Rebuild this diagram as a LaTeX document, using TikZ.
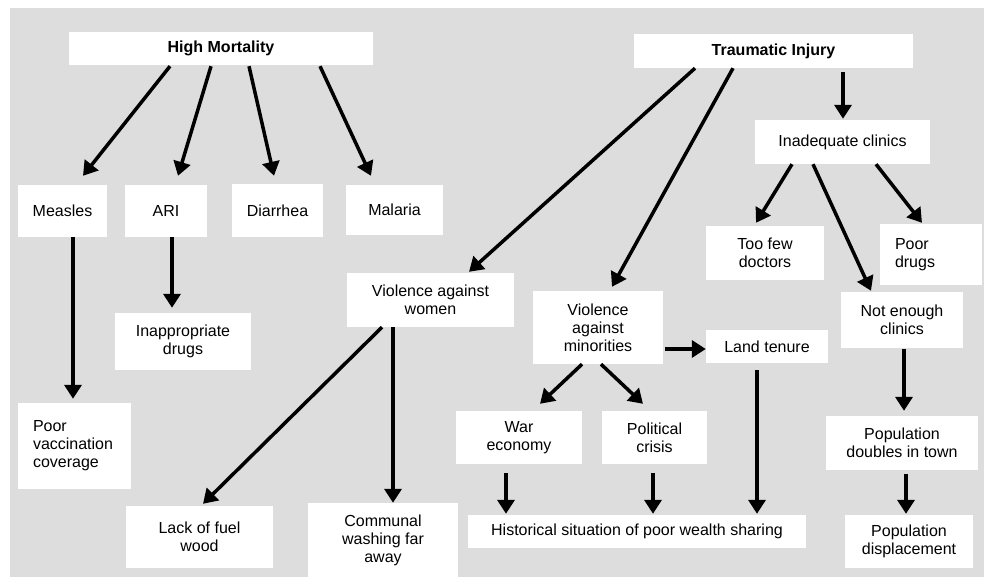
\documentclass[tikz,border=0pt]{standalone}
\usepackage{fontspec}
\setmainfont{Liberation Sans}
\usetikzlibrary{arrows.meta}
\definecolor{fondo}{RGB}{221,221,221}

\begin{document}
\begin{tikzpicture}[x=1pt,y=-1pt,
  box/.style={fill=white, inner sep=0pt, align=center, font=\fontsize{16}{18}\selectfont},
  boxleft/.style={box, align=left, inner xsep=15pt},
  arr/.style={line width=3.5pt, -{Triangle[length=14pt,width=17pt]}}
]
\useasboundingbox (0,0) rectangle (985,578);
\fill[fondo] (10,8) rectangle (984,577);

% -------- High mortality (left) --------
\node[box, minimum width=304pt, minimum height=33pt] (hm) at (221,48.5) {\textbf{High Mortality}};
\node[box, minimum width=89pt, minimum height=52pt] (measles) at (62.5,211) {Measles};
\node[box, minimum width=82pt, minimum height=52pt] (ari) at (166,211) {ARI};
\node[box, minimum width=91pt, minimum height=53pt] (diarrhea) at (277.5,210.5) {Diarrhea};
\node[box, minimum width=97pt, minimum height=50pt] (malaria) at (394.5,210) {Malaria};
\node[boxleft, text width=83pt, minimum height=86pt] (poorvacc) at (74.5,446) {Poor\\vaccination\\coverage};
\node[box, minimum width=136pt, minimum height=57pt] (inappr) at (183,341.5) {Inappropriate\\drugs};

% Arrows of high mortality
\draw[arr] ([xshift=-51pt,yshift=-1pt]hm.south) -- ([xshift=20.5pt,yshift=9pt]measles.north);
\draw[arr] ([xshift=-10pt,yshift=-1pt]hm.south) -- ([xshift=12pt,yshift=9pt]ari.north);
\draw[arr] ([xshift=28pt,yshift=-1pt]hm.south) -- ([xshift=-3.5pt,yshift=8pt]diarrhea.north);
\draw[arr] ([xshift=99pt,yshift=-1pt]hm.south) -- ([xshift=-23.5pt,yshift=9pt]malaria.north);
\draw[arr] ([xshift=10.5pt]measles.south) -- ([xshift=-1.5pt,yshift=4pt]poorvacc.north);
\draw[arr] ([xshift=6pt]ari.south) -- ([xshift=-11pt,yshift=5pt]inappr.north);

% -------- Traumatic injury (right) --------
\node[box, minimum width=279pt, minimum height=34pt] (ti) at (773.5,51) {\textbf{Traumatic Injury}};
\node[box, minimum width=175pt, minimum height=44pt] (inadeq) at (842.5,142) {Inadequate clinics};
\node[box, minimum width=118pt, minimum height=54pt] (toofew) at (765,253) {Too few\\doctors};
\node[boxleft, text width=72pt, minimum height=61pt] (poordrugs) at (931,254.5) {Poor\\drugs};
\node[box, minimum width=122pt, minimum height=56pt] (notenough) at (902,320) {Not enough\\clinics};
\node[box, minimum width=152pt, minimum height=54pt] (popdoubles) at (902,443) {Population\\doubles in town};
\node[box, minimum width=128pt, minimum height=53pt] (popdisp) at (909,541.5) {Population\\displacement};

\node[box, minimum width=167pt, minimum height=54pt] (vaw) at (430.5,300) {Violence against\\women};
\node[box, minimum width=147pt, minimum height=62pt] (lackfuel) at (199.5,537) {Lack of fuel\\wood};
\node[box, minimum width=150pt, minimum height=74pt] (communal) at (383,540) {Communal\\washing far\\away};

\node[box, minimum width=130pt, minimum height=73pt] (vam) at (598,327.5) {Violence\\against\\minorities};
\node[box, minimum width=122pt, minimum height=33pt] (land) at (767,346.5) {Land tenure};
\node[box, minimum width=126pt, minimum height=53pt] (war) at (519,437.5) {War\\economy};
\node[box, minimum width=105pt, minimum height=53pt] (political) at (654.5,437.5) {Political\\crisis};
\node[box, minimum width=338pt, minimum height=33pt] (hist) at (637,531.5) {Historical situation of poor wealth sharing};

% Arrows of traumatic injury
\draw[arr] ([xshift=-78.5pt]ti.south) -- ([xshift=38.5pt,yshift=1pt]vaw.north);
\draw[arr] ([xshift=-40.5pt]ti.south) -- ([xshift=14pt,yshift=4pt]vam.north);
\draw[arr] ([xshift=69.5pt,yshift=-4pt]ti.south) -- ([xshift=0.5pt,yshift=1pt]inadeq.north);
\draw[arr] ([xshift=-50.5pt]inadeq.south) -- ([xshift=-9pt,yshift=3pt]toofew.north);
\draw[arr] ([xshift=-29.5pt]inadeq.south) -- ([xshift=-31pt,yshift=1pt]notenough.north);
\draw[arr] ([xshift=33.5pt]inadeq.south) -- ([xshift=-9pt,yshift=1pt]poordrugs.north);
\draw[arr] ([xshift=2pt,yshift=-1pt]notenough.south) -- ([xshift=2pt,yshift=5pt]popdoubles.north);
\draw[arr] ([xshift=4pt,yshift=-4pt]popdoubles.south) -- ([xshift=-3pt,yshift=1pt]popdisp.north);

\draw[arr] ([xshift=-48.5pt]vaw.south) -- ([xshift=3.5pt,yshift=2pt]lackfuel.north);
\draw[arr] ([xshift=-37.5pt]vaw.south) -- ([xshift=10pt]communal.north);

\draw[arr] ([xshift=2pt,yshift=-21.5pt]vam.east) -- ([yshift=-2.5pt]land.west);
\draw[arr] ([xshift=-16pt]vam.south) -- ([xshift=21pt,yshift=7pt]war.north);
\draw[arr] ([xshift=3pt]vam.south) -- ([xshift=-11.5pt,yshift=7pt]political.north);
\draw[arr] ([xshift=-10pt,yshift=-7pt]land.south) -- ([xshift=120pt,yshift=1pt]hist.north);
\draw[arr] ([xshift=-13pt,yshift=-9pt]war.south) -- ([xshift=-131pt,yshift=1pt]hist.north);
\draw[arr] ([xshift=-1.5pt,yshift=-9pt]political.south) -- ([xshift=16pt,yshift=1pt]hist.north);

\end{tikzpicture}
\end{document}
